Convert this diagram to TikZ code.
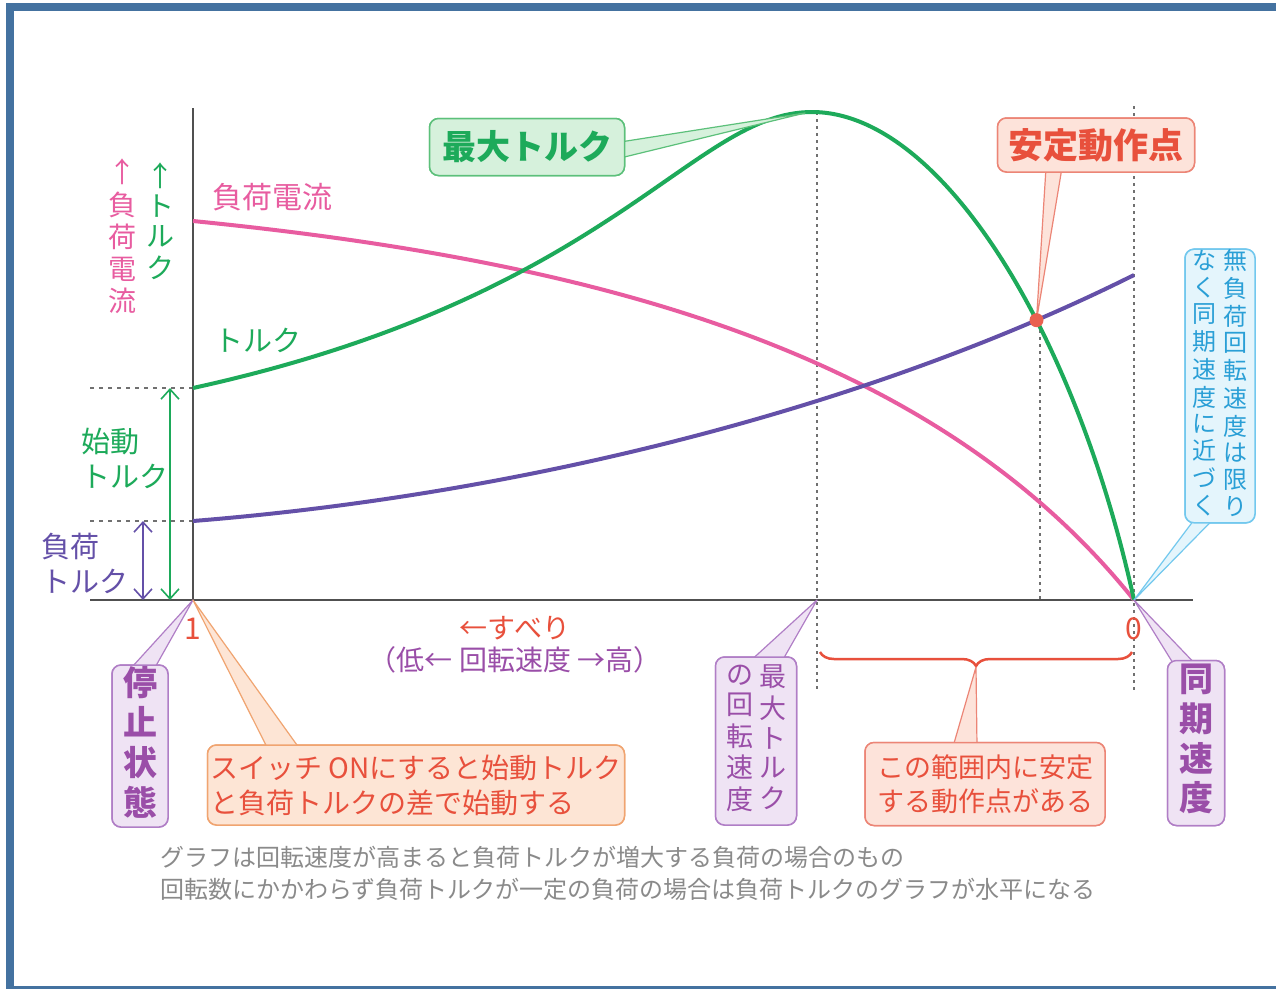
\documentclass[tikz,border=0pt]{standalone}
\usepackage{fontspec}
\usetikzlibrary{arrows.meta,decorations.pathreplacing,intersections}
\newfontfamily\jp{Noto Sans CJK JP}
\definecolor{frameblue}{HTML}{4472A0}
\definecolor{cgreen}{HTML}{1DAA5A}
\definecolor{cpink}{HTML}{E85CA0}
\definecolor{cpurp}{HTML}{6450A8}
\definecolor{tpurp}{HTML}{9A4EA8}
\definecolor{tred}{HTML}{E8503C}
\definecolor{tblue}{HTML}{2A9FD6}
\definecolor{gfill}{HTML}{D6F1DC}
\definecolor{gborder}{HTML}{5CC07A}
\definecolor{rfill}{HTML}{FDE3DA}
\definecolor{rborder}{HTML}{EC8576}
\definecolor{ofill}{HTML}{FDE5D5}
\definecolor{oborder}{HTML}{F0A470}
\definecolor{bfill}{HTML}{E4F5FC}
\definecolor{bborder}{HTML}{72C8EE}
\definecolor{pfill}{HTML}{EFE3F4}
\definecolor{pborder}{HTML}{B07EC6}
\definecolor{axisgray}{HTML}{505050}
\definecolor{dotgray}{HTML}{707070}
\definecolor{notegray}{HTML}{8A8A8A}
\newcommand{\vcol}[1]{\begin{tabular}{@{}c@{}}#1\end{tabular}}
\tikzset{
  axisline/.style={draw=axisgray, line width=2pt},
  dotv/.style={draw=dotgray, line width=2pt, dash pattern=on 3pt off 4pt},
  dashh/.style={draw=dotgray, line width=1.8pt, dash pattern=on 4pt off 5pt},
  curve/.style={line width=4pt, line join=round},
  callout/.style={rounded corners=9pt, line width=1.5pt, inner sep=0pt, align=center},
  gbox/.style={callout, draw=gborder, fill=gfill, text=cgreen},
  rbox/.style={callout, draw=rborder, fill=rfill, text=tred},
  obox/.style={callout, draw=oborder, fill=ofill, text=tred},
  bbox/.style={callout, draw=bborder, fill=bfill, text=tblue},
  pbox/.style={callout, draw=pborder, fill=pfill, text=tpurp},
  gwedge/.style={draw=gborder, fill=gfill, line width=1.2pt, line join=round},
  rwedge/.style={draw=rborder, fill=rfill, line width=1.2pt, line join=round},
  owedge/.style={draw=oborder, fill=ofill, line width=1.2pt, line join=round},
  bwedge/.style={draw=bborder, fill=bfill, line width=1.2pt, line join=round},
  pwedge/.style={draw=pborder, fill=pfill, line width=1.2pt, line join=round},
  barb/.style={line width=1.6pt, {Straight Barb[length=10pt,width=18pt]}-{Straight Barb[length=10pt,width=18pt]}},
}
\begin{document}
\begin{tikzpicture}[x=1pt,y=-1pt,font=\jp]
\useasboundingbox (0,0) rectangle (1276,989);
\fill[white] (0,0) rectangle (1276,989);
% frame
\fill[frameblue] (6,3) rectangle (1276,11);
\fill[frameblue] (6,3) rectangle (14,989);
\fill[frameblue] (6,986) rectangle (1276,989);

% key points
\coordinate (O) at (193,600);
\coordinate (S) at (1134,600);
\coordinate (M) at (817,600);
\coordinate (ytop) at (193,108);
\coordinate (xl) at (90,600);
\coordinate (xr) at (1193,600);
\coordinate (peak) at (805,113);
\coordinate (st) at (193,388);
\coordinate (lt) at (193,521);

% guide lines
\draw[dotv] (817,112) -- (817,692);
\draw[dotv] (1134,106) -- (1134,692);
\draw[dotv] (1040,330) -- (1040,600);
\draw[dashh] (90,388) -- (st);
\draw[dashh] (90,521) -- (lt);

% axes
\draw[axisline] (xl) -- (xr);
\draw[axisline] (O) -- (ytop);

% torque range arrows
\draw[barb, cgreen] (170,388) -- (170,600);
\draw[barb, cpurp] (143,521) -- (143,600);

% curves
\draw[curve, cpink] (193,221) .. controls (593,261) and (934,350) .. (S);
\draw[curve, cpurp, name path=load] (lt) .. controls (543,493) and (884,400) .. (1134,275);
\draw[curve, cgreen, name path=torque] (st) .. controls (613,296) and (692,112) .. (812,112)
      .. controls (940,112) and (1075,330) .. (S);
\path[name intersections={of=load and torque, by={op}}];

% axis labels
\node[text=cpink, font=\jp\fontsize{30}{32}\selectfont] (lcur) at (272,197) {負荷電流};
\node[text=cgreen, font=\jp\fontsize{29}{31}\selectfont] (ltor) at (258,340) {トルク};
\node[text=cpink, font=\jp\fontsize{28}{30}\selectfont] (vcur) at (122,240) {\vcol{↑\\負\\荷\\電\\流}};
\node[text=cgreen, font=\jp\fontsize{28}{30}\selectfont] (vtor) at (160,225) {\vcol{↑\\ト\\ル\\ク}};
\node[text=cgreen, font=\jp\fontsize{29}{35}\selectfont, anchor=west, align=left] (lst) at (78,458) {始動\\トルク};
\node[text=cpurp, font=\jp\fontsize{29}{35}\selectfont, anchor=west, align=left] (llt) at (38,563) {負荷\\トルク};
\node[text=tred, font=\jp\fontsize{30}{32}\selectfont] (one) at (193,629) {1};
\node[text=tred, font=\jp\fontsize{30}{32}\selectfont] (zero) at (1134,629) {0};
\node[text=tred, font=\jp\fontsize{28}{30}\selectfont] (slip) at (515,628) {←すべり};
\node[text=tpurp, font=\jp\fontsize{28}{30}\selectfont] (spd) at (515,660) {（低← 回転速度 →高）};

% brace
\draw[tred, line width=2.5pt, decorate, decoration={brace, amplitude=14pt, mirror}] (820,652) -- (1132,652);
\coordinate (brtip) at (976,667);

% callout boxes (placed first for anchors, redrawn after wedges)
\path node[gbox, minimum width=195pt, minimum height=57pt, font=\jp\fontsize{34}{36}\selectfont\bfseries] (mt) at (527,147) {最大トルク}
      node[rbox, minimum width=197pt, minimum height=54pt, font=\jp\fontsize{35}{37}\selectfont\bfseries] (ad) at (1096,145) {安定動作点}
      node[bbox, minimum width=70pt, minimum height=263pt, font=\jp\fontsize{24}{25.6}\selectfont] (nb) at (1220,386) {\vcol{な\\く\\同\\期\\速\\度\\に\\近\\づ\\く}\hspace{7pt}\vcol{無\\負\\荷\\回\\転\\速\\度\\は\\限\\り}}
      node[pbox, minimum width=56pt, minimum height=162pt, font=\jp\fontsize{34}{36}\selectfont\bfseries] (ts) at (140,746) {\vcol{停\\止\\状\\態}}
      node[obox, minimum width=417pt, minimum height=80pt, font=\jp\fontsize{28}{35}\selectfont, align=left] (sw) at (416,785) {スイッチ ONにすると始動トルク\\と負荷トルクの差で始動する}
      node[pbox, minimum width=81pt, minimum height=168pt, font=\jp\fontsize{27}{29.4}\selectfont] (mr) at (756,741) {\vcol{の\\回\\転\\速\\度}\hspace{6pt}\vcol{最\\大\\ト\\ル\\ク}}
      node[rbox, minimum width=240pt, minimum height=83pt, font=\jp\fontsize{27}{34}\selectfont] (rg) at (985,784) {この範囲内に安定\\する動作点がある}
      node[pbox, minimum width=57pt, minimum height=165pt, font=\jp\fontsize{34}{36}\selectfont\bfseries] (ds) at (1196,743) {\vcol{同\\期\\速\\度}};

% wedges
\filldraw[gwedge] ([xshift=-5pt,yshift=5pt]mt.east) -- (peak) -- ([xshift=-5pt,yshift=-11pt]mt.east) -- cycle;
\filldraw[rwedge] ([xshift=-50pt,yshift=5pt]ad.south) -- (op) -- ([xshift=-34pt,yshift=5pt]ad.south) -- cycle;
\filldraw[bwedge] ([xshift=-25pt,yshift=5pt]nb.south) -- (S) -- ([xshift=-6pt,yshift=5pt]nb.south) -- cycle;
\filldraw[pwedge] ([xshift=-10pt,yshift=-5pt]ts.north) -- (O) -- ([xshift=14pt,yshift=-5pt]ts.north) -- cycle;
\filldraw[owedge] ([xshift=-148pt,yshift=-5pt]sw.north) -- (O) -- ([xshift=-116pt,yshift=-5pt]sw.north) -- cycle;
\filldraw[pwedge] ([xshift=-6pt,yshift=-5pt]mr.north) -- (M) -- ([xshift=26pt,yshift=-5pt]mr.north) -- cycle;
\filldraw[rwedge] ([xshift=-32pt,yshift=-5pt]rg.north) -- (brtip) -- ([xshift=-8pt,yshift=-5pt]rg.north) -- cycle;
\filldraw[pwedge] ([xshift=-22pt,yshift=-5pt]ds.north) -- (S) -- ([xshift=0pt,yshift=-5pt]ds.north) -- cycle;

% redraw boxes over wedge bases
\node[gbox, minimum width=195pt, minimum height=57pt, font=\jp\fontsize{34}{36}\selectfont\bfseries] at (mt) {最大トルク};
\node[rbox, minimum width=197pt, minimum height=54pt, font=\jp\fontsize{35}{37}\selectfont\bfseries] at (ad) {安定動作点};
\node[bbox, minimum width=70pt, minimum height=263pt, font=\jp\fontsize{24}{25.6}\selectfont] at (nb) {\vcol{な\\く\\同\\期\\速\\度\\に\\近\\づ\\く}\hspace{7pt}\vcol{無\\負\\荷\\回\\転\\速\\度\\は\\限\\り}};
\node[pbox, minimum width=56pt, minimum height=162pt, font=\jp\fontsize{34}{36}\selectfont\bfseries] at (ts) {\vcol{停\\止\\状\\態}};
\node[obox, minimum width=417pt, minimum height=80pt, font=\jp\fontsize{28}{35}\selectfont, align=left] at (sw) {スイッチ ONにすると始動トルク\\と負荷トルクの差で始動する};
\node[pbox, minimum width=81pt, minimum height=168pt, font=\jp\fontsize{27}{29.4}\selectfont] at (mr) {\vcol{の\\回\\転\\速\\度}\hspace{6pt}\vcol{最\\大\\ト\\ル\\ク}};
\node[rbox, minimum width=240pt, minimum height=83pt, font=\jp\fontsize{27}{34}\selectfont] at (rg) {この範囲内に安定\\する動作点がある};
\node[pbox, minimum width=57pt, minimum height=165pt, font=\jp\fontsize{34}{36}\selectfont\bfseries] at (ds) {\vcol{同\\期\\速\\度}};

% operating point
\fill[tred!90] (op) circle (7pt);

% footnote
\node[text=notegray, font=\jp\fontsize{24}{32}\selectfont, anchor=north west, align=left, inner sep=0pt] (note) at (160,846) {グラフは回転速度が高まると負荷トルクが増大する負荷の場合のもの\\回転数にかかわらず負荷トルクが一定の負荷の場合は負荷トルクのグラフが水平になる};
\end{tikzpicture}
\end{document}
